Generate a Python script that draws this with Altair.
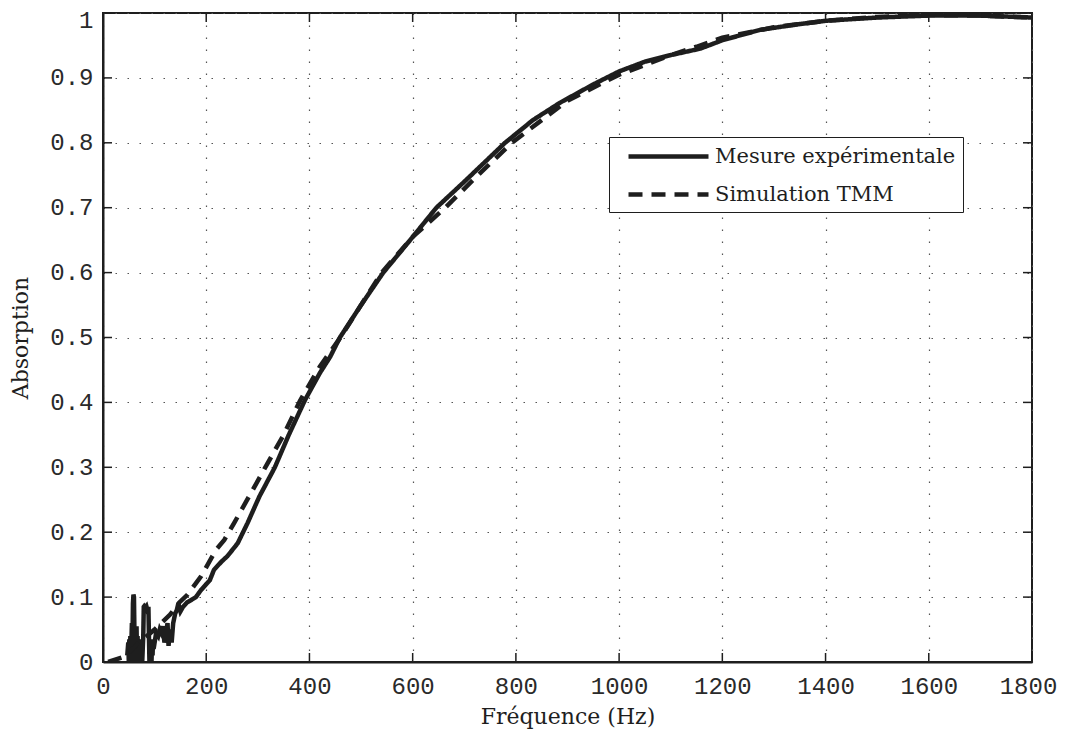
import altair as alt
import pandas as pd

series_names = ["Mesure expérimentale", "Simulation TMM"]

meas_freq = [47, 49, 50, 51, 52, 53, 54, 55, 56, 57, 58, 59, 60, 61, 62, 63,
             64, 65, 66, 67, 68, 69, 70, 71, 72, 73, 74, 75, 76, 77, 78, 79,
             80, 82, 84, 86, 88, 89, 90, 91, 92, 93, 94, 95, 96, 97, 98,
             100, 103, 107, 110, 113, 116, 119, 122, 125, 127, 130, 133, 136,
             140, 143, 146, 150, 155, 163, 170, 180, 190, 200, 207, 215, 230,
             241, 261, 280, 303, 333, 360, 391, 420, 440, 459, 500, 543, 595,
             646, 700, 779, 833, 886, 950, 1000, 1050, 1099, 1157, 1200, 1273,
             1350, 1400, 1500, 1600, 1700, 1800]
meas_abs = [0.01, 0.03, 0.0, 0.035, 0.005, 0.04, 0.0, 0.03, 0.06, 0.02, 0.09,
            0.104, 0.1, 0.04, 0.0, 0.05, 0.01, 0.055, 0.0, 0.04, 0.005, 0.035,
            0.0, 0.03, 0.0, 0.035, 0.0, 0.03, 0.0, 0.02, 0.04, 0.085,
            0.086, 0.084, 0.086, 0.08, 0.085, 0.04, 0.0, 0.03, 0.0, 0.035, 0.0,
            0.03, 0.01, 0.035, 0.02,
            0.03, 0.045, 0.04, 0.05, 0.045, 0.055, 0.03, 0.045, 0.06, 0.025,
            0.05, 0.03, 0.06, 0.075, 0.08, 0.09, 0.078, 0.085, 0.092, 0.095,
            0.10, 0.111, 0.12, 0.126, 0.142, 0.155, 0.163, 0.183, 0.214, 0.255,
            0.30, 0.35, 0.403, 0.445, 0.47, 0.50, 0.55, 0.60, 0.65, 0.70,
            0.74, 0.80, 0.835, 0.862, 0.89, 0.91, 0.925, 0.935, 0.945, 0.958,
            0.974, 0.983, 0.988, 0.993, 0.996, 0.996, 0.993]

sim_freq = [10, 40, 70, 100, 130, 147, 164, 190, 219, 235, 254, 290, 318,
            350, 382, 420, 460, 540, 600, 663, 720, 792, 850, 900, 1000, 1100,
            1150, 1200, 1300, 1400, 1500, 1600, 1700, 1800]
sim_abs = [0.0, 0.008, 0.03, 0.05, 0.073, 0.091, 0.104, 0.132, 0.173, 0.188,
           0.214, 0.265, 0.305, 0.35, 0.403, 0.455, 0.50, 0.60, 0.655, 0.70,
           0.745, 0.80, 0.835, 0.865, 0.905, 0.935, 0.948, 0.962, 0.978,
           0.988, 0.994, 0.997, 0.996, 0.993]

x_ticks = [0, 200, 400, 600, 800, 1000, 1200, 1400, 1600, 1800]
y_ticks = [0.0, 0.1, 0.2, 0.3, 0.4, 0.5, 0.6, 0.7, 0.8, 0.9, 1.0]

W, H = 929, 649
MONO = "Liberation Mono"
SERIF = "DejaVu Serif"
INK = "#1e1e1e"

df = pd.concat([
    pd.DataFrame({"f": meas_freq, "a": meas_abs, "s": series_names[0], "o": range(len(meas_freq))}),
    pd.DataFrame({"f": sim_freq, "a": sim_abs, "s": series_names[1], "o": range(len(sim_freq))}),
])

xs = alt.Scale(domain=[0, 1800], nice=False, zero=False)
ys = alt.Scale(domain=[0, 1], nice=False, zero=False)

label_expr = "datum.value == 0 ? '0' : datum.value == 1 ? '1' : format(datum.value, '.1f')"

x_axis = alt.Axis(values=x_ticks, format="d", grid=True, tickSize=0,
                  labelPadding=12, titlePadding=8, labelFlush=False,
                  labelOffset={"condition": {"test": "datum.value == 1800", "value": -4},
                               "value": 0})
y_axis = alt.Axis(values=y_ticks, labelExpr=label_expr, grid=True,
                  tickSize=0, labelPadding=10, titlePadding=17, labelFlush=False,
                  labelOffset={"condition": {"test": "datum.value == 1", "value": 7},
                               "value": 0})
X_T = "Fréquence (Hz)"
Y_T = "Absorption"

lines = alt.Chart(df).mark_line(strokeWidth=4.5, clip=True, strokeCap="butt",
                                strokeJoin="miter").encode(
    x=alt.X("f:Q", scale=xs, title=X_T, axis=x_axis),
    y=alt.Y("a:Q", scale=ys, title=Y_T, axis=y_axis),
    color=alt.Color("s:N", scale=alt.Scale(domain=series_names, range=[INK, INK]),
                    title=None),
    strokeDash=alt.StrokeDash("s:N", scale=alt.Scale(domain=series_names,
                                                     range=[[1, 0], [14, 9]]),
                              title=None),
    detail="s:N",
    order="o:Q",
)

xt = pd.DataFrame({"f": x_ticks})
yt = pd.DataFrame({"a": y_ticks})
tick_style = dict(color=INK, strokeWidth=1.5)
ticks = [
    alt.Chart(xt).mark_rule(**tick_style).encode(x=alt.X("f:Q", scale=xs, title=X_T, axis=x_axis),
                                                 y=alt.value(H), y2=alt.value(H - 9)),
    alt.Chart(xt).mark_rule(**tick_style).encode(x=alt.X("f:Q", scale=xs, title=X_T, axis=x_axis),
                                                 y=alt.value(0), y2=alt.value(9)),
    alt.Chart(yt).mark_rule(**tick_style).encode(y=alt.Y("a:Q", scale=ys, title=Y_T, axis=y_axis),
                                                 x=alt.value(0), x2=alt.value(9)),
    alt.Chart(yt).mark_rule(**tick_style).encode(y=alt.Y("a:Q", scale=ys, title=Y_T, axis=y_axis),
                                                 x=alt.value(W), x2=alt.value(W - 9)),
]

chart = alt.layer(lines, *ticks).properties(
    width=W, height=H,
    autosize=alt.AutoSizeParams(type="none"),
    padding={"left": 95, "top": 5, "right": 26, "bottom": 70},
).configure_view(
    stroke=INK, strokeWidth=2
).configure_axis(
    labelFont=MONO, labelFontSize=24, labelColor="#2a2a2a",
    titleFont=SERIF, titleFontSize=22, titleFontWeight="normal", titleColor=INK,
    domainColor=INK, domainWidth=2,
    gridColor="#555555", gridDash=[1.5, 10.5], gridWidth=1.2, gridOpacity=1,
).configure_legend(
    orient="none", legendX=506, legendY=124,
    strokeColor=INK, fillColor="white", padding=7,
    labelFont=SERIF, labelFontSize=21, labelColor=INK, labelLimit=400,
    symbolType="M-4,0H4", symbolSize=400, symbolStrokeWidth=4.5,
    symbolOffset=40, labelOffset=34, rowPadding=15,
)

chart.save("out.html", embed_options={"renderer": "svg", "actions": False})
